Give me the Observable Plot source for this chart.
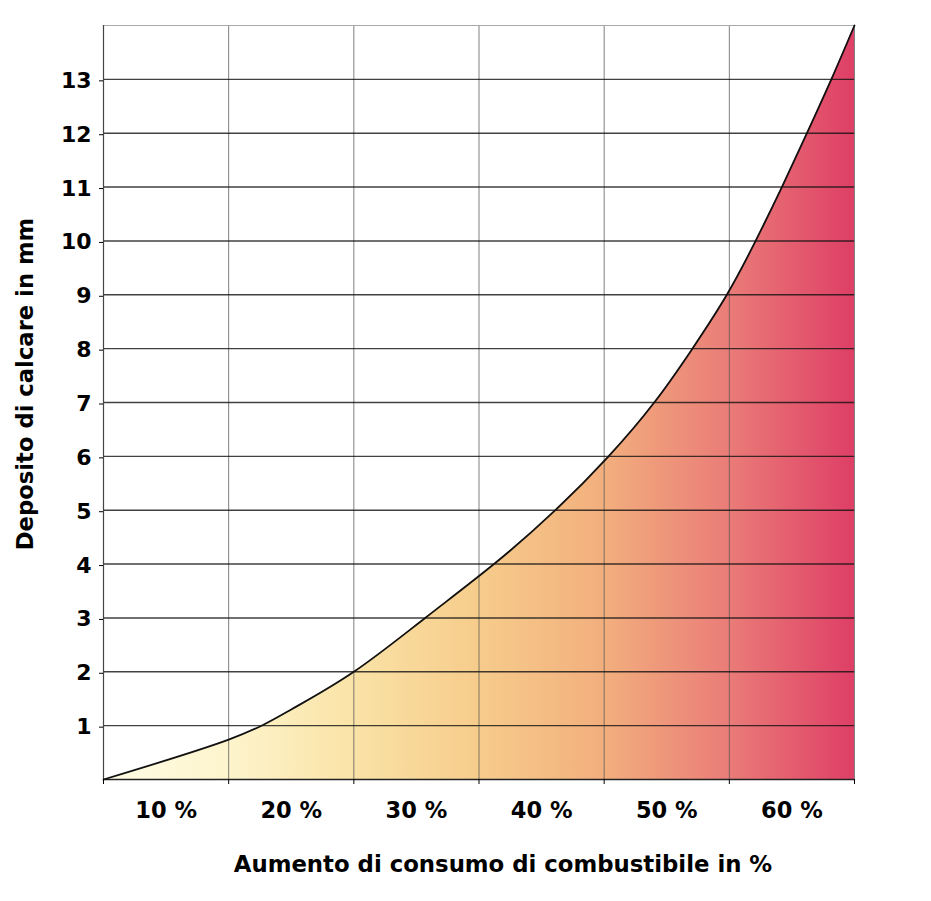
<!DOCTYPE html>
<html><head><meta charset="utf-8">
<script src="https://cdn.jsdelivr.net/npm/d3@7"></script>
<script src="https://cdn.jsdelivr.net/npm/@observablehq/plot@0.6"></script>
<style>html,body{margin:0;padding:0;background:#fff} svg{display:block}</style>
</head><body><div id="chart"></div>
<script>
// Aumento di consumo di combustibile (%) and deposito di calcare (mm)
const consumo = [5, 15, 20, 25, 30.7, 36.2, 41.1, 45.35, 49.0, 52.05, 54.8, 57.1, 59.2, 61.2, 63.15, 65];
const calcare = [0, 0.74, 1.3, 2.0, 3.0, 4.0, 5.0, 6.0, 7.0, 8.0, 9.0, 10.0, 11.0, 12.0, 13.0, 14.0];
const xLabels = [10, 20, 30, 40, 50, 60];
const xBounds = [5, 15, 25, 35, 45, 55, 65];
const yTicks = [1, 2, 3, 4, 5, 6, 7, 8, 9, 10, 11, 12, 13];
const yTitle = "Deposito di calcare in mm";
const xTitle = "Aumento di consumo di combustibile in %";
const gradStops = [
  [0, "#fffde6"], [0.17, "#fdf4cc"], [0.33, "#fae3a7"], [0.5, "#f6cc8b"],
  [0.67, "#f2ae7d"], [0.83, "#ea7d78"], [1, "#de3f66"]
];

const data = consumo.map((x, i) => ({x, y: calcare[i]}));

const plot = Plot.plot({
  width: 931, height: 901,
  marginLeft: 103, marginRight: 77, marginTop: 25, marginBottom: 122,
  style: {fontFamily: "'DejaVu Sans', Verdana, sans-serif", fontWeight: "bold", background: "white", color: "#000", fontSize: "22px"},
  x: {domain: [5, 65]},
  y: {domain: [0, 14]},
  marks: [
    Plot.areaY(data, {x: "x", y: "y", fill: "url(#calcare-grad)", curve: "natural"}),
    Plot.gridX({ticks: xBounds, stroke: "#555", strokeOpacity: 0.75}),
    Plot.gridY({ticks: yTicks, stroke: "#111", strokeOpacity: 0.8, strokeWidth: 1.4}),
    Plot.gridY({ticks: [14], stroke: "#aaa", strokeOpacity: 1}),
    Plot.ruleY([0], {stroke: "#222", strokeWidth: 1.6}),
    Plot.ruleX([5], {stroke: "#444", strokeWidth: 1.2}),
    Plot.lineY(data, {x: "x", y: "y", stroke: "#111", strokeWidth: 1.8, curve: "natural"}),
    Plot.axisY({ticks: yTicks, tickSize: 4, tickPadding: 8, dy: 1.5, fontSize: 22, label: null}),
    Plot.axisX({ticks: xBounds, tickSize: 5, tickFormat: () => "", label: null}),
    Plot.axisX({ticks: xLabels, tickSize: 0, tickPadding: 23, tickFormat: d => d + "\u00a0%", fontSize: 22.5, label: null}),
    Plot.text([yTitle], {frameAnchor: "left", textAnchor: "middle", lineAnchor: "middle", rotate: -90, dx: -78, dy: -18.5, fontSize: 22.7, fontWeight: "bold"}),
    Plot.text([xTitle], {frameAnchor: "bottom", dx: 24, dy: 92, fontSize: 22.8, fontWeight: "bold"})
  ]
});

const defs = d3.select(plot).insert("defs", ":first-child");
const grad = defs.append("linearGradient").attr("id", "calcare-grad")
  .attr("x1", 0).attr("x2", 1).attr("y1", 0).attr("y2", 0);
gradStops.forEach(([o, c]) => grad.append("stop").attr("offset", o).attr("stop-color", c));

document.getElementById("chart").appendChild(plot);
</script>
</body></html>
